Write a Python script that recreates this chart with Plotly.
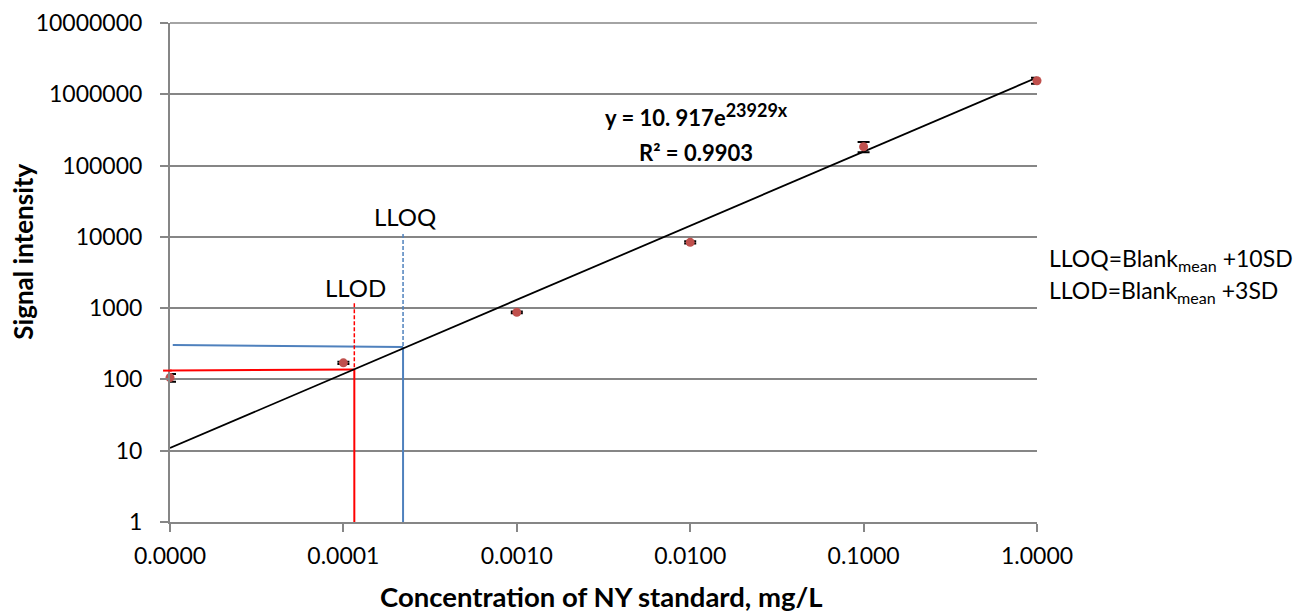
import math
import plotly.graph_objects as go

# ---- data ----
categories = ["0.0000", "0.0001", "0.0010", "0.0100", "0.1000", "1.0000"]
cat_pos = [0, 1, 2, 3, 4, 5]
signal = [106, 171, 873, 8370, 183500, 1550000]
signal_err = [13, 6, 25, 300, 30000, 150000]

# exponential trendline shown on the chart: y = 10.917 e^(2.3929 x)
trend_a = 10.917
trend_b = 2.3929
trend_x = [0, 5]

# LLOD / LLOQ construction lines (category position, signal)
llod_x = 1.063
llod_h_y = [133, 138]
llod_dash_top = 1175
lloq_x = 1.344
lloq_h_y = [305, 285]
lloq_dash_top = 10960

y_ticks = [1, 10, 100, 1000, 10000, 100000, 1000000, 10000000]
y_ticktext = [str(v) for v in y_ticks]

FONT = "Lato"
GRID = "#868686"
RED = "#FF0000"
BLUE = "#4F81BD"

fig = go.Figure()

# LLOQ (blue) lines
fig.add_trace(go.Scatter(x=[0.016, lloq_x], y=lloq_h_y, mode="lines",
                         line=dict(color=BLUE, width=2), hoverinfo="skip"))
fig.add_trace(go.Scatter(x=[lloq_x, lloq_x], y=[lloq_h_y[1], 1], mode="lines",
                         line=dict(color=BLUE, width=2), hoverinfo="skip"))
fig.add_trace(go.Scatter(x=[lloq_x, lloq_x], y=[lloq_dash_top, lloq_h_y[1]], mode="lines",
                         line=dict(color=BLUE, width=1.5, dash="4px,2px"), hoverinfo="skip"))
# LLOD (red) lines
fig.add_trace(go.Scatter(x=[-0.04, llod_x], y=llod_h_y, mode="lines",
                         line=dict(color=RED, width=2), hoverinfo="skip"))
fig.add_trace(go.Scatter(x=[llod_x, llod_x], y=[llod_h_y[1], 1], mode="lines",
                         line=dict(color=RED, width=2), hoverinfo="skip"))
fig.add_trace(go.Scatter(x=[llod_x, llod_x], y=[llod_dash_top, llod_h_y[1]], mode="lines",
                         line=dict(color=RED, width=1.5, dash="4px,2px"), hoverinfo="skip"))

# trendline
fig.add_trace(go.Scatter(x=trend_x, y=[trend_a * math.exp(trend_b * t) for t in trend_x],
                         mode="lines", line=dict(color="black", width=1.8), hoverinfo="skip"))

# data points with error bars
fig.add_trace(go.Scatter(
    x=cat_pos, y=signal, mode="markers",
    marker=dict(color="#C0504D", size=9),
    error_y=dict(type="data", array=signal_err, visible=True, color="black",
                 thickness=2, width=6),
    cliponaxis=False))


def note(text, x, y, size, **kw):
    d = dict(text=text, x=x, y=y, xref="paper", yref="paper", showarrow=False,
             xanchor="center", yanchor="middle", borderpad=0,
             font=dict(family=FONT, size=size, color="black"))
    d.update(kw)
    return d


annotations = [
    note("<b>y = 10. 917e<sup><span style=\"font-size:18px\">23929x</span></sup></b>", 0.607, 0.816, 22),
    note("<b>R² = 0.9903</b>", 0.607, 0.7395, 22),
    note("LLOQ", 0.271, 0.613, 24),
    note("LLOD", 0.2134, 0.469, 24),
    note("LLOQ=Blank<sub>mean</sub> +10SD", 1.013, 0.526, 23, xanchor="left"),
    note("LLOD=Blank<sub>mean</sub> +3SD", 1.013, 0.462, 23, xanchor="left"),
    note("<b>Signal intensity</b>", -0.170, 0.541, 26, textangle=-90),
    note("<b>Concentration of NY standard, mg/L</b>", 0.498, -0.150, 27.5),
]

fig.update_layout(
    width=1301, height=611,
    margin=dict(l=162, r=272, t=15, b=97, autoexpand=False),
    paper_bgcolor="white", plot_bgcolor="white",
    showlegend=False,
    font=dict(family=FONT, color="black"),
    annotations=annotations,
    shapes=[
        dict(type="line", xref="paper", yref="paper", x0=0, x1=1, y0=1, y1=1,
             line=dict(color=GRID, width=1.5), layer="below"),
        # small overhang of the LLOD horizontal line left of the y axis
        dict(type="line", xref="paper", yref="y", x0=-0.008, x1=0.002,
             y0=llod_h_y[0], y1=llod_h_y[0], line=dict(color=RED, width=2), layer="above"),
    ],
    xaxis=dict(range=[0, 5], tickvals=cat_pos, ticktext=categories, automargin=False,
               showgrid=False, zeroline=False, showline=True, linecolor=GRID, linewidth=2,
               ticks="outside", ticklen=8, tickwidth=2, tickcolor=GRID,
               tickfont=dict(family=FONT, size=23, color="black"), ticklabelstandoff=4),
    yaxis=dict(type="log", range=[0, 7], tickvals=y_ticks, ticktext=y_ticktext, automargin=False,
               showgrid=True, gridcolor=GRID, gridwidth=1.5, zeroline=False,
               showline=True, linecolor=GRID, linewidth=2,
               ticks="outside", ticklen=8, tickwidth=2, tickcolor=GRID,
               tickfont=dict(family=FONT, size=23, color="black"), ticklabelstandoff=13),
)

fig.write_html("out.html")
